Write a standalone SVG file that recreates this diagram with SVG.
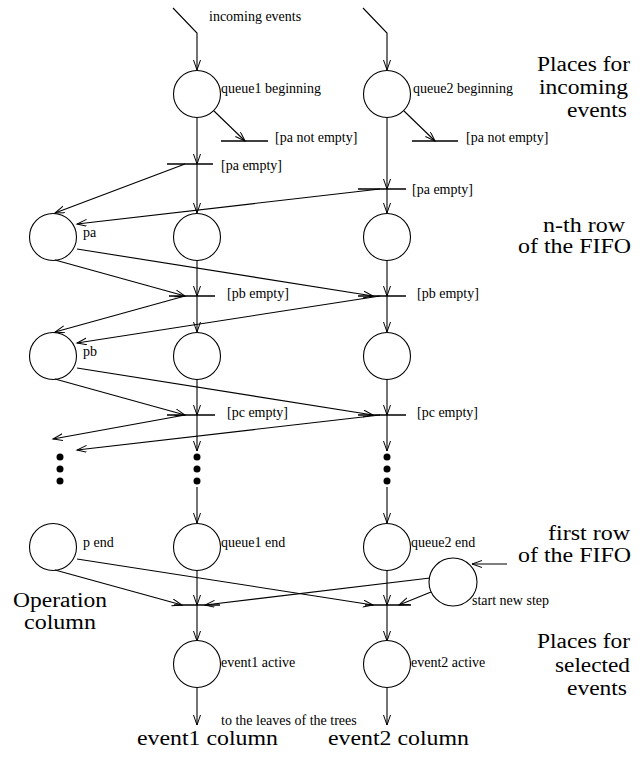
<svg xmlns="http://www.w3.org/2000/svg" width="642" height="763" viewBox="0 0 642 763" font-family="Liberation Serif, Times New Roman, serif">
  <defs>
    <marker id="arrow" markerUnits="userSpaceOnUse" markerWidth="12" markerHeight="9" refX="10" refY="3.5" orient="auto">
      <path d="M0,0 L10,3.5 L0,7" fill="none" stroke="#000" stroke-width="1"/>
    </marker>
  </defs>
  <style>
    .place { fill: none; stroke: #000; stroke-width: 1.1; }
    .bar { stroke: #000; stroke-width: 1.3; }
    .arc { fill: none; stroke: #000; stroke-width: 1.1; marker-end: url(#arrow); }
    .dot { fill: #000; }
    .s { font-size: 14px; fill: #000; }
    .b { font-size: 20px; fill: #000; }
    .end { text-anchor: end; }
  </style>
  <rect width="642" height="763" fill="#fff"/>

  <!-- arcs of the net -->
  <g id="connectors">
    <!-- event1 column -->
    <polyline class="arc" points="173,8 197,33 197,70"/>
    <line class="arc" x1="197" y1="118" x2="197" y2="164"/>
    <line class="arc" x1="197" y1="164" x2="197" y2="213"/>
    <line class="arc" x1="197" y1="260" x2="197" y2="296"/>
    <line class="arc" x1="197" y1="296" x2="197" y2="332"/>
    <line class="arc" x1="197" y1="379" x2="197" y2="415"/>
    <line class="arc" x1="197" y1="415" x2="197" y2="451"/>
    <line class="arc" x1="197" y1="487" x2="197" y2="523"/>
    <line class="arc" x1="197" y1="570" x2="197" y2="605"/>
    <line class="arc" x1="197" y1="605" x2="197" y2="641"/>
    <line class="arc" x1="197" y1="688" x2="197" y2="725"/>
    <!-- event2 column -->
    <polyline class="arc" points="363,8 387,33 387,70"/>
    <line class="arc" x1="387" y1="118" x2="387" y2="189"/>
    <line class="arc" x1="387" y1="189" x2="387" y2="213"/>
    <line class="arc" x1="387" y1="260" x2="387" y2="296"/>
    <line class="arc" x1="387" y1="296" x2="387" y2="332"/>
    <line class="arc" x1="387" y1="379" x2="387" y2="415"/>
    <line class="arc" x1="387" y1="415" x2="387" y2="451"/>
    <line class="arc" x1="387" y1="487" x2="387" y2="523"/>
    <line class="arc" x1="387" y1="570" x2="387" y2="605"/>
    <line class="arc" x1="387" y1="605" x2="387" y2="641"/>
    <line class="arc" x1="387" y1="688" x2="387" y2="725"/>
    <!-- queue beginnings to [pa not empty] -->
    <line class="arc" x1="214" y1="111" x2="245" y2="141"/>
    <line class="arc" x1="404" y1="111" x2="435" y2="141"/>
    <!-- operation column arcs -->
    <line class="arc" x1="185" y1="164" x2="55" y2="213"/>
    <line class="arc" x1="380" y1="189" x2="77" y2="224"/>
    <line class="arc" x1="55" y1="260" x2="185" y2="296"/>
    <line class="arc" x1="77" y1="249" x2="373" y2="296"/>
    <line class="arc" x1="185" y1="296" x2="55" y2="332"/>
    <line class="arc" x1="380" y1="296" x2="77" y2="343"/>
    <line class="arc" x1="55" y1="379" x2="185" y2="415"/>
    <line class="arc" x1="77" y1="368" x2="373" y2="415"/>
    <line class="arc" x1="185" y1="415" x2="53" y2="439"/>
    <line class="arc" x1="380" y1="415" x2="77" y2="450"/>
    <line class="arc" x1="55" y1="570" x2="182" y2="605"/>
    <line class="arc" x1="77" y1="559" x2="373" y2="605"/>
    <!-- start new step -->
    <line class="arc" x1="507" y1="564" x2="472" y2="564"/>
    <line class="arc" x1="430" y1="578" x2="205" y2="605"/>
    <line class="arc" x1="431" y1="592" x2="399" y2="605"/>
  </g>

  <!-- transitions -->
  <g id="t-pa-not-empty-1"><line class="bar" x1="221" y1="141" x2="268" y2="141"/><text class="s" x="275" y="142">[pa not empty]</text></g>
  <g id="t-pa-not-empty-2"><line class="bar" x1="412" y1="141" x2="458" y2="141"/><text class="s" x="466" y="142">[pa not empty]</text></g>
  <g id="t-pa-empty-1"><line class="bar" x1="167" y1="164" x2="213" y2="164"/><text class="s" x="221" y="170">[pa empty]</text></g>
  <g id="t-pa-empty-2"><line class="bar" x1="358" y1="189" x2="406" y2="189"/><text class="s" x="412" y="194">[pa empty]</text></g>
  <g id="t-pb-empty-1"><line class="bar" x1="169" y1="296" x2="215" y2="296"/><text class="s" x="227" y="298">[pb empty]</text></g>
  <g id="t-pb-empty-2"><line class="bar" x1="358" y1="296" x2="406" y2="296"/><text class="s" x="417" y="298">[pb empty]</text></g>
  <g id="t-pc-empty-1"><line class="bar" x1="167" y1="415" x2="215" y2="415"/><text class="s" x="227" y="417">[pc empty]</text></g>
  <g id="t-pc-empty-2"><line class="bar" x1="358" y1="415" x2="406" y2="415"/><text class="s" x="417" y="417">[pc empty]</text></g>
  <g id="t-select-1"><line class="bar" x1="174" y1="605" x2="220" y2="605"/></g>
  <g id="t-select-2"><line class="bar" x1="365" y1="605" x2="411" y2="605"/></g>

  <!-- places -->
  <g id="queue1-beginning"><circle class="place" cx="197" cy="94" r="23.5"/><text class="s" x="221" y="93">queue1 beginning</text></g>
  <g id="queue2-beginning"><circle class="place" cx="387" cy="94" r="23.5"/><text class="s" x="413" y="93">queue2 beginning</text></g>
  <g id="pa"><circle class="place" cx="53" cy="237" r="23.5"/><text class="s" x="83" y="237">pa</text></g>
  <g id="q1-a"><circle class="place" cx="197" cy="237" r="23.5"/></g>
  <g id="q2-a"><circle class="place" cx="387" cy="237" r="23.5"/></g>
  <g id="pb"><circle class="place" cx="53" cy="356" r="23.5"/><text class="s" x="83" y="356">pb</text></g>
  <g id="q1-b"><circle class="place" cx="197" cy="356" r="23.5"/></g>
  <g id="q2-b"><circle class="place" cx="387" cy="356" r="23.5"/></g>
  <g id="ellipsis">
    <circle class="dot" cx="60" cy="457" r="3.5"/><circle class="dot" cx="60" cy="469" r="3.5"/><circle class="dot" cx="60" cy="481" r="3.5"/>
    <circle class="dot" cx="197" cy="457" r="3.5"/><circle class="dot" cx="197" cy="469" r="3.5"/><circle class="dot" cx="197" cy="481" r="3.5"/>
    <circle class="dot" cx="387" cy="457" r="3.5"/><circle class="dot" cx="387" cy="469" r="3.5"/><circle class="dot" cx="387" cy="481" r="3.5"/>
  </g>
  <g id="p-end"><circle class="place" cx="53" cy="547" r="23.5"/><text class="s" x="83" y="547">p end</text></g>
  <g id="queue1-end"><circle class="place" cx="197" cy="547" r="23.5"/><text class="s" x="221" y="547">queue1 end</text></g>
  <g id="queue2-end"><circle class="place" cx="387" cy="547" r="23.5"/><text class="s" x="411" y="547">queue2 end</text></g>
  <g id="start-new-step"><circle class="place" cx="453" cy="582" r="24"/><text class="s" x="472" y="605">start new step</text></g>
  <g id="event1-active"><circle class="place" cx="197" cy="664" r="23.5"/><text class="s" x="221" y="667">event1 active</text></g>
  <g id="event2-active"><circle class="place" cx="387" cy="664" r="23.5"/><text class="s" x="411" y="667">event2 active</text></g>

  <!-- annotations -->
  <g id="labels">
    <text class="s" x="209" y="21">incoming events</text>
    <text class="s" x="221" y="725">to the leaves of the trees</text>
    <text class="b end" x="630" y="71" textLength="93" lengthAdjust="spacingAndGlyphs">Places for</text>
    <text class="b end" x="628" y="94" textLength="89" lengthAdjust="spacingAndGlyphs">incoming</text>
    <text class="b end" x="627" y="117" textLength="60" lengthAdjust="spacingAndGlyphs">events</text>
    <text class="b" x="543" y="232" textLength="82" lengthAdjust="spacingAndGlyphs">n-th row</text>
    <text class="b" x="518" y="253" textLength="113" lengthAdjust="spacingAndGlyphs">of the FIFO</text>
    <text class="b" x="548" y="540" textLength="82" lengthAdjust="spacingAndGlyphs">first row</text>
    <text class="b" x="518" y="562" textLength="113" lengthAdjust="spacingAndGlyphs">of the FIFO</text>
    <text class="b" x="13" y="607" textLength="94" lengthAdjust="spacingAndGlyphs">Operation</text>
    <text class="b" x="24" y="629" textLength="72" lengthAdjust="spacingAndGlyphs">column</text>
    <text class="b end" x="630" y="648" textLength="93" lengthAdjust="spacingAndGlyphs">Places for</text>
    <text class="b end" x="630" y="672" textLength="75" lengthAdjust="spacingAndGlyphs">selected</text>
    <text class="b end" x="627" y="695" textLength="60" lengthAdjust="spacingAndGlyphs">events</text>
    <text class="b" x="137" y="745" textLength="141" lengthAdjust="spacingAndGlyphs">event1 column</text>
    <text class="b" x="328" y="745" textLength="141" lengthAdjust="spacingAndGlyphs">event2 column</text>
  </g>
</svg>
